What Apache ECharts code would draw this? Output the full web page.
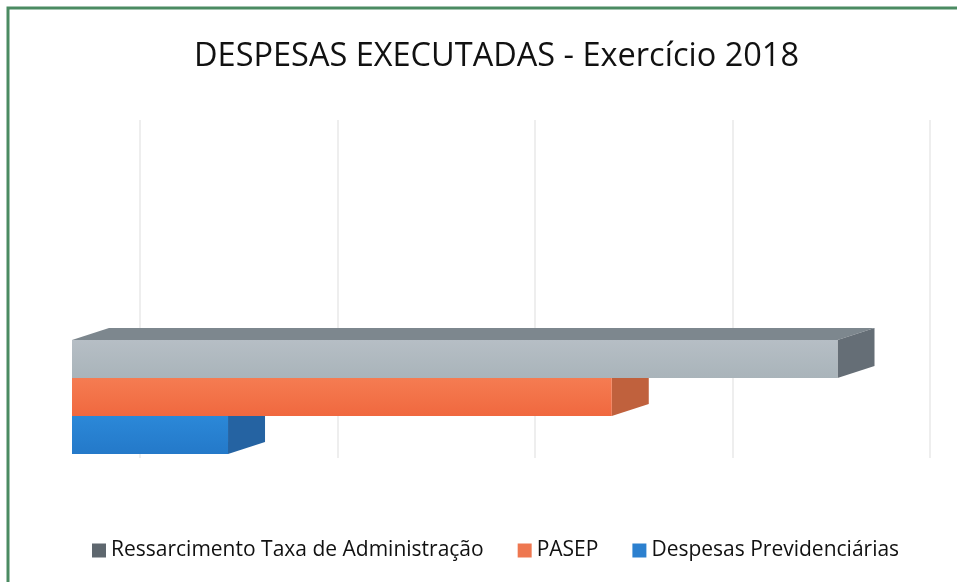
<!DOCTYPE html>
<html>
<head>
<meta charset="utf-8">
<title>Despesas executadas 2018</title>
<script src="https://cdn.jsdelivr.net/npm/echarts@6/dist/echarts.min.js"></script>
<style>
  html, body { margin: 0; padding: 0; background: #fff; }
  #chart { width: 957px; height: 582px; }
</style>
</head>
<body>
<div id="chart"></div>
<script>
'use strict';

// dados do gráfico
var seriesNames = ['Ressarcimento Taxa de Administração', 'PASEP', 'Despesas Previdenciárias'];
var seriesValues = [387600, 273300, 79000];
var axisMin = 0;
var axisMax = 400000;
var axisStep = 100000;

// cores: legenda, frente (topo/base), face superior, face lateral
var palette = [
  { legend: '#5e676e', front: ['#b6bec5', '#a9b4ba'], top: '#7d878e', side: '#656e76' },
  { legend: '#ee7750', front: ['#f57c52', '#f0683f'], top: '#d46a45', side: '#c0613d' },
  { legend: '#2c80cf', front: ['#2b88d8', '#2479c9'], top: '#2468aa', side: '#2563a2' }
];

var DEPTH_X = 37;
var DEPTH_Y = 12;

// barra "3D" desenhada a partir das coordenadas do eixo
function bar3d(colors) {
  return function (params, api) {
    var cat = api.value(1);
    var start = api.coord([axisMin, cat]);
    var end = api.coord([api.value(0), cat]);
    var h = api.size([0, 1])[1];
    var x0 = start[0], x1 = end[0];
    var y0 = start[1] - h / 2, y1 = start[1] + h / 2;
    return {
      type: 'group',
      children: [
        {
          type: 'polygon',
          shape: { points: [[x0, y0], [x0 + DEPTH_X, y0 - DEPTH_Y], [x1 + DEPTH_X, y0 - DEPTH_Y], [x1, y0]] },
          style: { fill: colors.top }
        },
        {
          type: 'polygon',
          shape: { points: [[x1, y0], [x1 + DEPTH_X, y0 - DEPTH_Y], [x1 + DEPTH_X, y1 - DEPTH_Y], [x1, y1]] },
          style: { fill: colors.side }
        },
        {
          type: 'rect',
          shape: { x: x0, y: y0, width: x1 - x0, height: h },
          style: {
            fill: new echarts.graphic.LinearGradient(0, 0, 0, 1, [
              { offset: 0, color: colors.front[0] },
              { offset: 1, color: colors.front[1] }
            ])
          }
        }
      ]
    };
  };
}

var series = seriesNames.map(function (name, i) {
  return {
    name: name,
    type: 'custom',
    xAxisIndex: 1,
    yAxisIndex: 1,
    z: 10 - i,
    itemStyle: { color: palette[i].legend },
    renderItem: bar3d(palette[i]),
    encode: { x: 0, y: 1 },
    data: [[seriesValues[i], i]]
  };
});

var chart = echarts.init(document.getElementById('chart'));

chart.setOption({
  backgroundColor: '#ffffff',
  animation: false,
  title: {
    text: 'DESPESAS EXECUTADAS - Exercício 2018',
    left: 189,
    top: 35,
    textStyle: { fontFamily: 'Open Sans', fontSize: 32.5, fontWeight: 'normal', color: '#111111' }
  },
  legend: {
    data: seriesNames,
    left: 87,
    top: 535,
    icon: 'rect',
    itemWidth: 14,
    itemHeight: 14,
    itemGap: 34,
    textStyle: { fontFamily: 'Open Sans', fontSize: 21, color: '#111111' }
  },
  graphic: [
    {
      type: 'polyline',
      shape: { points: [[8, 582], [8, 8], [957, 8]] },
      style: { stroke: '#4b8b62', lineWidth: 3, fill: null },
      z: 100
    }
  ],
  grid: [
    { left: 140, right: 27, top: 120, bottom: 124 },
    { left: 72, right: 95, top: 340, height: 114 }
  ],
  xAxis: [
    {
      gridIndex: 0, type: 'value', min: axisMin, max: axisMax, interval: axisStep,
      axisLine: { show: false }, axisTick: { show: false }, axisLabel: { show: false },
      splitLine: { show: true, lineStyle: { color: '#eeeeee', width: 2 } }
    },
    {
      gridIndex: 1, type: 'value', min: axisMin, max: axisMax, show: false,
      splitLine: { show: false }
    }
  ],
  yAxis: [
    { gridIndex: 0, type: 'value', min: 0, max: 1, show: false, splitLine: { show: false } },
    { gridIndex: 1, type: 'category', data: seriesNames, inverse: true, show: false }
  ],
  series: series
});
</script>
</body>
</html>
